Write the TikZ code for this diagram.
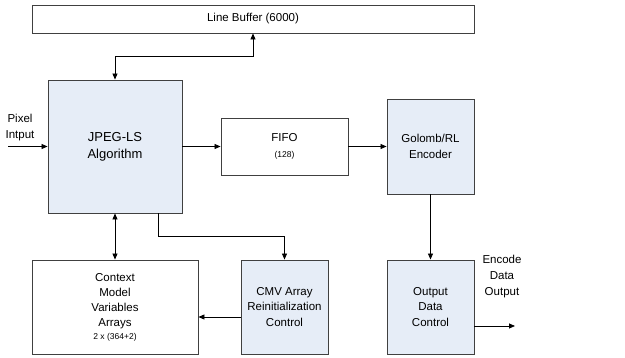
\documentclass[tikz,border=0pt]{standalone}
\usepackage{fontspec}
\setmainfont{Liberation Sans}
\usetikzlibrary{arrows.meta}
\definecolor{boxfill}{HTML}{E6EDF7}
\definecolor{edge}{HTML}{404040}
\tikzset{
  block/.style={draw=edge, line width=0.9pt, align=center, inner sep=0pt,
    font=\fontsize{11.5}{15.3}\selectfont},
  shaded/.style={block, fill=boxfill},
  link/.style={line width=0.8pt, -{Triangle[length=6pt,width=5pt]}},
  dlink/.style={line width=0.8pt, {Triangle[length=6pt,width=5pt]}-{Triangle[length=6pt,width=5pt]}},
  lbl/.style={align=center, inner sep=0pt, font=\fontsize{11.5}{16}\selectfont}
}
\newcommand{\smalltxt}[1]{{\fontsize{8.5}{10}\selectfont #1}}
\begin{document}
\begin{tikzpicture}[x=1pt,y=-1pt]
\useasboundingbox (0,0) rectangle (625,358);

% blocks
\node[block, minimum width=442pt, minimum height=28pt] (lb) at (253,19) {Line Buffer (6000)};
\node[shaded, minimum width=134pt, minimum height=133pt,
      font=\fontsize{13}{17}\selectfont] (jpeg) at (115,146.5) {JPEG-LS\\Algorithm};
\node[block, minimum width=127pt, minimum height=57pt] (fifo) at (284.5,146.5)
      {FIFO\\[1pt]\smalltxt{(128)}};
\node[shaded, minimum width=87pt, minimum height=95pt] (golomb) at (430.5,146.5) {Golomb/RL\\Encoder};
\node[block, minimum width=166pt, minimum height=94pt] (ctx) at (115,307)
      {Context\\Model\\Variables\\Arrays\\[-3pt]\smalltxt{2 x (364+2)}};
\node[shaded, minimum width=87pt, minimum height=94pt] (cmv) at (284.5,307)
      {CMV Array\\Reinitialization\\Control};
\node[shaded, minimum width=87pt, minimum height=94pt] (out) at (430.5,307)
      {Output\\Data\\Control};

% external labels
\node[lbl] (pinlbl) at (20,128) {Pixel\\Intput};
\node[lbl] (doutlbl) at (502,277) {Encode\\Data\\Output};
\coordinate (pin) at (8,146.5);
\coordinate (dout) at (515,326);

% connectors
\draw[dlink] (jpeg.north) -- ++(0,-23) -| (lb.south);
\draw[link] (pin) -- (jpeg.west);
\draw[link] (jpeg) -- (fifo);
\draw[link] (fifo) -- (golomb);
\draw[link] (golomb) -- (out);
\draw[dlink] (jpeg) -- (ctx);
\draw[link] ([xshift=43pt]jpeg.south) -- ++(0,23) -| (cmv.north);
\draw[link] ([yshift=-10pt]cmv.west) -- ([yshift=-10pt]ctx.east);
\draw[link] ([yshift=-19pt]out.east) -- (dout);
\end{tikzpicture}
\end{document}
